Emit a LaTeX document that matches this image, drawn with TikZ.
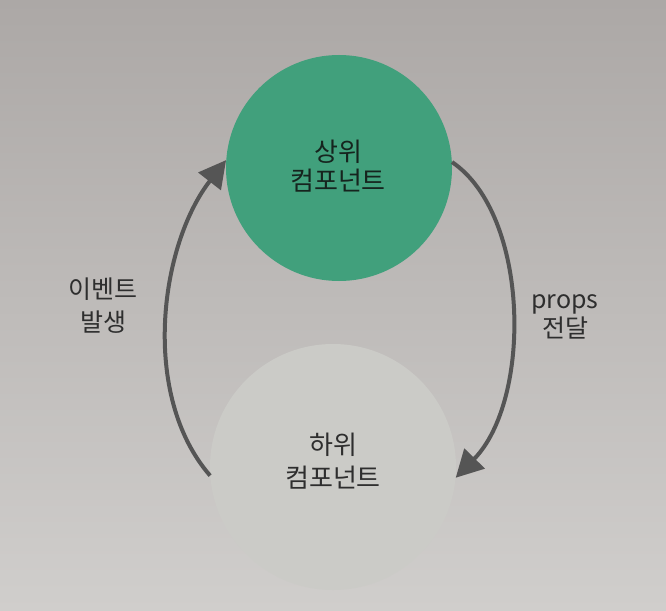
\documentclass[tikz,border=0pt]{standalone}
\usepackage{fontspec}
\setmainfont{Noto Sans CJK KR}
\usetikzlibrary{arrows.meta}
\definecolor{bgtop}{HTML}{ACA8A6}
\definecolor{bgbot}{HTML}{D0CECC}
\definecolor{upfill}{HTML}{41A07C}
\definecolor{lowfill}{HTML}{CBCBC7}
\definecolor{arrowgray}{HTML}{555555}
\definecolor{txtdark}{HTML}{16241E}
\definecolor{txtgray}{HTML}{2E2E2E}
\begin{document}
\begin{tikzpicture}[x=1pt,y=-1pt,
  bubble/.style={circle, inner sep=0pt, draw=none},
  conn/.style={line width=4pt, draw=arrowgray, -{Triangle[length=27pt,width=28pt]}},
  lbl/.style={align=center, text=txtgray},
]
\shade[top color=bgtop, bottom color=bgbot] (0,0) rectangle (666,610);
\useasboundingbox (0,0) rectangle (666,610);

\node[bubble, fill=upfill, minimum size=226pt] (upper) at (339,168) {};
\node[bubble, fill=lowfill, minimum size=246pt] (lower) at (333,467) {};

\node[align=center, text=txtdark, font=\fontsize{26}{29}\selectfont] (uppertext) at (338,166) {상위\\컴포넌트};
\node[align=center, text=txtgray, font=\fontsize{26}{33}\selectfont] (lowertext) at (333,461) {하위\\컴포넌트};

\draw[conn] (lower.184.6) .. controls (140,395) and (160,245) .. (upper.176);
\draw[conn] (upper.3) .. controls (530,215) and (532,400) .. (lower.355);

\node[lbl, font=\fontsize{25}{33}\selectfont] (eventlabel) at (103,306) {이벤트\\발생};
\node[lbl, font=\fontsize{25}{29}\selectfont] (propslabel) at (565,317) {props\\전달};
\end{tikzpicture}
\end{document}
